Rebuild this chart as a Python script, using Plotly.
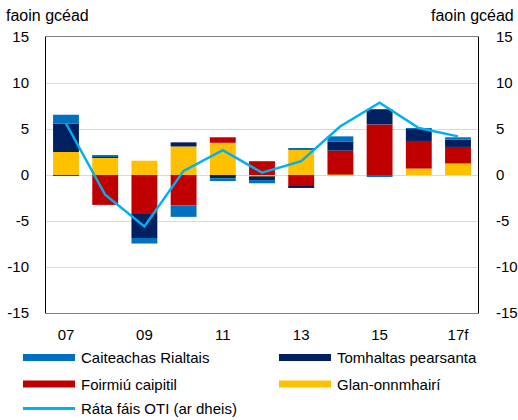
import plotly.graph_objects as go

years = [2007, 2008, 2009, 2010, 2011, 2012, 2013, 2014, 2015, 2016, 2017]
tick_vals = [2007, 2009, 2011, 2013, 2015, 2017]
tick_text = ["07", "09", "11", "13", "15", "17f"]
y_tick_vals = [-15, -10, -5, 0, 5, 10, 15]
y_tick_text = ["-15", "-10", "-5", "0", "5", "10", "15"]

glan_onnmhairi = [2.5, 1.85, 1.55, 3.1, 3.5, -0.15, 2.75, 0.05, -0.05, 0.7, 1.25]
foirmiu_caipitil = [-0.05, -3.25, -4.15, -3.3, 0.6, 1.5, -1.3, 2.6, 5.5, 3.0, 1.8]
tomhaltas = [3.1, 0.2, -2.7, 0.45, -0.35, -0.4, -0.1, 1.0, 1.65, 1.3, 0.8]
caiteachas = [0.95, 0.1, -0.6, -1.25, -0.3, -0.35, 0.15, 0.55, -0.1, 0.1, 0.25]
oti = [5.6, -2.15, -5.6, 0.45, 2.7, 0.25, 1.5, 5.3, 7.85, 5.1, 4.2]

names = ["Caiteachas Rialtais", "Tomhaltas pearsanta", "Foirmiú caipitil", "Glan-onnmhairí", "Ráta fáis OTI (ar dheis)"]
C_BLUE, C_NAVY, C_RED, C_YEL, C_LINE = "#0070C0", "#002060", "#C00000", "#FFC000", "#00B0F0"

FONT = "Liberation Sans, Arial, sans-serif"
FS = 15

fig = go.Figure()
for vals, col, nm in [(glan_onnmhairi, C_YEL, names[3]), (foirmiu_caipitil, C_RED, names[2]),
                      (tomhaltas, C_NAVY, names[1]), (caiteachas, C_BLUE, names[0])]:
    fig.add_trace(go.Bar(x=years, y=vals, name=nm, marker=dict(color=col, line=dict(width=0)),
                         showlegend=False))
fig.add_trace(go.Scatter(x=years, y=oti, name=names[4], mode="lines", yaxis="y2",
                         line=dict(color=C_LINE, width=2.5), showlegend=False))

fig.update_layout(
    width=518, height=420,
    margin=dict(l=46, r=40, t=37, b=107, autoexpand=False),
    barmode="relative", bargap=0.34,
    plot_bgcolor="white", paper_bgcolor="white",
    font=dict(family=FONT, size=FS, color="black"),
    xaxis=dict(range=[2006.49, 2017.51], tickvals=tick_vals, ticktext=tick_text, automargin=False,
               showgrid=False, zeroline=False, showline=True, linecolor="#808080", linewidth=1,
               mirror=True, ticks="", ticklabelstandoff=8),
    yaxis=dict(range=[-15, 15], tickvals=y_tick_vals, ticktext=y_tick_text,
               showgrid=True, gridcolor="#D9D9D9", gridwidth=1,
               zeroline=True, zerolinecolor="#D9D9D9", zerolinewidth=1, automargin=False,
               showline=True, linecolor="black", linewidth=1, ticks="", ticklabelstandoff=13),
    yaxis2=dict(range=[-15, 15], tickvals=y_tick_vals, ticktext=y_tick_text,
                overlaying="y", side="right", showgrid=False,
                zeroline=False, showline=True, linecolor="black", linewidth=1, ticks="",
                automargin=False, ticklabelstandoff=14),
)

fig.add_annotation(x=0, y=1, xref="paper", yref="paper", xshift=-42, yshift=22, text="faoin gcéad",
                   showarrow=False, xanchor="left", yanchor="middle", font=dict(size=16))
fig.add_annotation(x=1, y=1, xref="paper", yref="paper", xshift=38, yshift=22, text="faoin gcéad",
                   showarrow=False, xanchor="right", yanchor="middle", font=dict(size=16))

# manual legend
PW, PH, L, T = 432.0, 276.0, 46.0, 37.0
def px(x):
    return (x - L) / PW
def py(y):
    return (T + PH - y) / PH

legend_items = [
    (names[0], C_BLUE, 23, 357.5, 7),
    (names[1], C_NAVY, 279, 357.5, 7),
    (names[2], C_RED, 23, 384, 7),
    (names[3], C_YEL, 279, 384, 7),
    (names[4], C_LINE, 23, 408.5, 3),
]
for nm, col, x0, yc, h in legend_items:
    fig.add_shape(type="rect", xref="paper", yref="paper", x0=px(x0), x1=px(x0 + 52),
                  y0=py(yc - h / 2), y1=py(yc + h / 2), fillcolor=col, line=dict(width=0))
    fig.add_annotation(x=px(x0 + 56), y=py(yc), xref="paper", yref="paper", text=nm,
                       showarrow=False, xanchor="left", yanchor="middle", font=dict(size=FS))

fig.write_html("out.html", config={"displayModeBar": False},
               post_script="document.body.style.margin='0';document.body.style.overflow='hidden';")
